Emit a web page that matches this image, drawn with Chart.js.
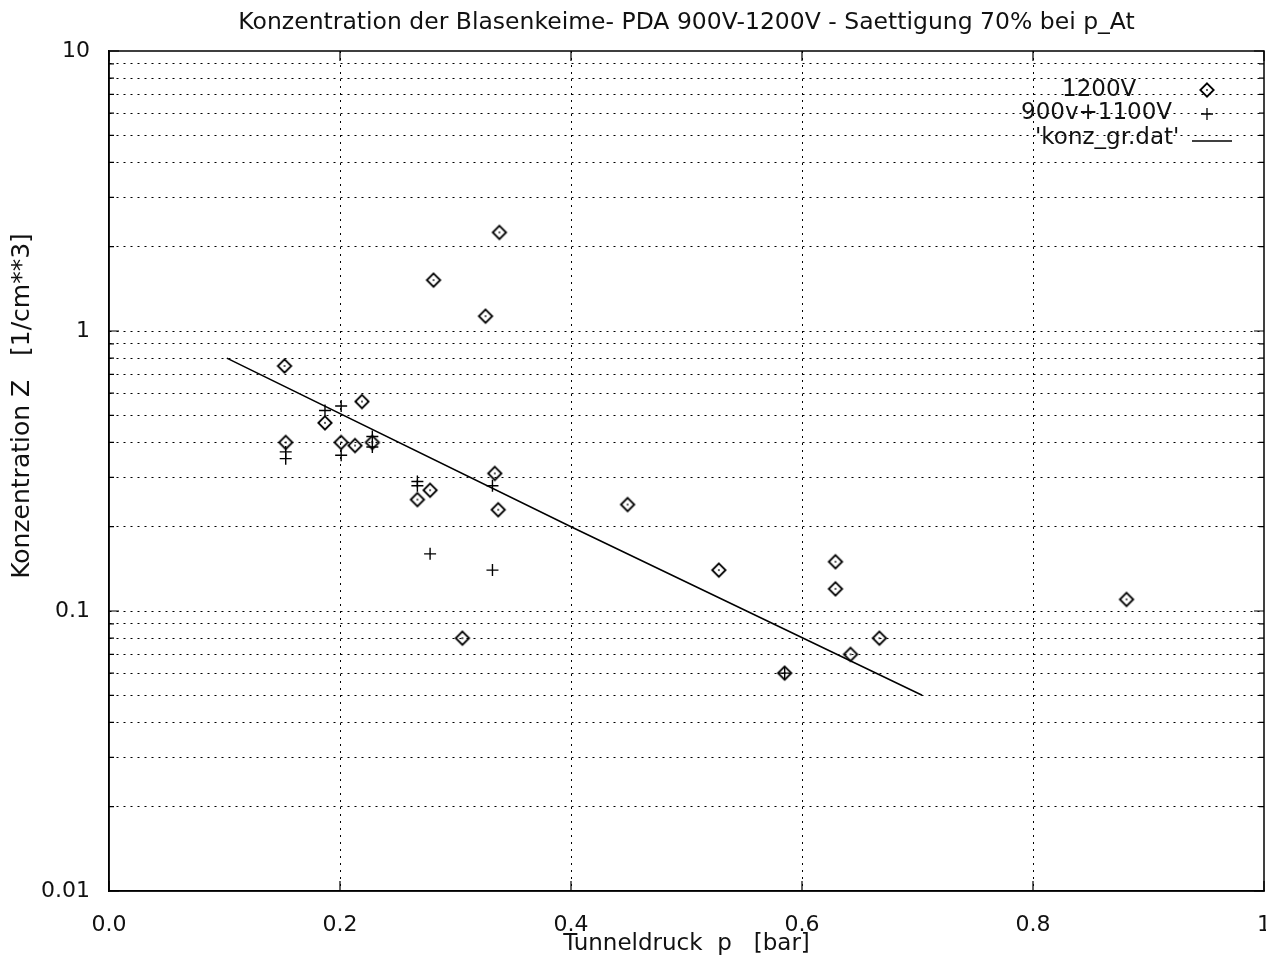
<!DOCTYPE html>
<html><head><meta charset="utf-8">
<script src="https://cdn.jsdelivr.net/npm/chart.js@4.4.1/dist/chart.umd.min.js"></script>
<style>html,body{margin:0;padding:0;background:#fff;overflow:hidden}#wrap{width:1266px;height:962px}</style>
</head><body><div id="wrap"><canvas id="c" width="1266" height="962"></canvas></div>
<script>
// ---- data ----
const titleText = 'Konzentration der Blasenkeime- PDA 900V-1200V - Saettigung 70% bei p_At';
const xAxisTitle = 'Tunneldruck  p   [bar]';
const yAxisTitle = 'Konzentration Z   [1/cm**3]';
const seriesNames = ['1200V', '900v+1100V', "'konz_gr.dat'"];

const p1200 = [0.152, 0.153, 0.187, 0.219, 0.201, 0.213, 0.228, 0.267, 0.278, 0.281, 0.326, 0.338, 0.334, 0.337, 0.306, 0.449, 0.528, 0.585, 0.629, 0.629, 0.642, 0.667, 0.881];
const z1200 = [0.75, 0.40, 0.47, 0.56, 0.40, 0.39, 0.40, 0.25, 0.27, 1.52, 1.13, 2.25, 0.31, 0.23, 0.08, 0.24, 0.14, 0.06, 0.15, 0.12, 0.07, 0.08, 0.11];

const p900 = [0.153, 0.153, 0.187, 0.201, 0.201, 0.228, 0.228, 0.267, 0.267, 0.278, 0.332, 0.332, 0.585];
const z900 = [0.37, 0.35, 0.52, 0.54, 0.36, 0.42, 0.385, 0.29, 0.28, 0.16, 0.28, 0.14, 0.06];

const pFit = [0.102, 0.4, 0.704];
const zFit = [0.8, 0.2, 0.05];

const xTicks = [0, 0.2, 0.4, 0.6, 0.8, 1];
const xTickLabels = ['0.0', '0.2', '0.4', '0.6', '0.8', '1'];
const yTicks = [0.01,0.02,0.03,0.04,0.05,0.06,0.07,0.08,0.09,0.1,0.2,0.3,0.4,0.5,0.6,0.7,0.8,0.9,1,2,3,4,5,6,7,8,9,10];
const yMajorTicks = [0.01, 0.1, 1, 10];
const yTickLabels = ['0.01', '0.1', '1', '10'];

// ---- styles ----
const FONT = '"DejaVu Sans", Verdana, sans-serif';
const INK = '#111';
const TICK_FONT = 22;

function makeDiamond() {
  const c = document.createElement('canvas');
  c.width = 18; c.height = 18;
  const g = c.getContext('2d');
  g.strokeStyle = '#000'; g.lineWidth = 1.8;
  g.beginPath();
  g.moveTo(9, 2.3); g.lineTo(15.7, 9); g.lineTo(9, 15.7); g.lineTo(2.3, 9); g.closePath();
  g.stroke();
  g.fillStyle = '#000';
  g.fillRect(8.2, 8.2, 1.6, 1.6);
  return c;
}
const diamondImg = makeDiamond();

const toPts = (xs, ys) => xs.map((x, i) => ({x: x, y: ys[i]}));
const isMajor = v => yMajorTicks.some(m => Math.abs(m - v) < 1e-9);

const framePlugin = {
  id: 'frame',
  afterDraw(chart) {
    const {ctx, chartArea: a} = chart;
    const xs = chart.scales.x, ys = chart.scales.y;
    ctx.save();
    ctx.strokeStyle = '#000';
    ctx.lineWidth = 1.5;
    ctx.strokeRect(a.left, a.top, a.right - a.left, a.bottom - a.top);
    // inward tick marks
    ctx.lineWidth = 1.2;
    ctx.beginPath();
    yTicks.forEach(v => {
      const y = ys.getPixelForValue(v);
      const len = isMajor(v) ? 10 : 5;
      ctx.moveTo(a.left, y); ctx.lineTo(a.left + len, y);
      ctx.moveTo(a.right, y); ctx.lineTo(a.right - len, y);
    });
    xTicks.forEach(v => {
      const x = xs.getPixelForValue(v);
      ctx.moveTo(x, a.bottom); ctx.lineTo(x, a.bottom - 10);
      ctx.moveTo(x, a.top); ctx.lineTo(x, a.top + 10);
    });
    ctx.stroke();
    // title
    ctx.fillStyle = INK;
    ctx.font = '23.5px ' + FONT;
    ctx.textAlign = 'center';
    ctx.textBaseline = 'middle';
    ctx.fillText(titleText, (a.left + a.right) / 2, 23);
    // y axis title
    ctx.save();
    ctx.font = '25px ' + FONT;
    ctx.translate(22, 406);
    ctx.rotate(-Math.PI / 2);
    ctx.fillText(yAxisTitle, 0, 0);
    ctx.restore();
    // legend
    ctx.font = '23px ' + FONT;
    ctx.textAlign = 'left';
    const L = [
      {text: seriesNames[0], x: a.right - 202, y: 90},
      {text: seriesNames[1], x: a.right - 243, y: 113},
      {text: seriesNames[2], x: a.right - 229, y: 138}
    ];
    L.forEach(o => ctx.fillText(o.text, o.x, o.y));
    const sx = a.right - 57;
    ctx.drawImage(diamondImg, sx - 9, 90 - 9);
    ctx.strokeStyle = '#000';
    ctx.lineWidth = 1.3;
    ctx.beginPath();
    ctx.moveTo(sx - 6, 114); ctx.lineTo(sx + 6, 114);
    ctx.moveTo(sx, 108); ctx.lineTo(sx, 120);
    ctx.stroke();
    ctx.lineWidth = 1.5;
    ctx.beginPath();
    ctx.moveTo(a.right - 72, 141); ctx.lineTo(a.right - 32, 141);
    ctx.stroke();
    ctx.restore();
  }
};

new Chart(document.getElementById('c'), {
  type: 'scatter',
  data: {
    datasets: [
      {
        label: seriesNames[0],
        data: toPts(p1200, z1200),
        pointStyle: diamondImg,
        pointRadius: 7,
        borderColor: '#000',
        backgroundColor: '#000'
      },
      {
        label: seriesNames[1],
        data: toPts(p900, z900),
        pointStyle: 'cross',
        pointRadius: 6,
        borderWidth: 1.4,
        borderColor: '#000',
        backgroundColor: '#000'
      },
      {
        label: seriesNames[2],
        type: 'line',
        data: toPts(pFit, zFit),
        showLine: true,
        pointRadius: 0,
        borderColor: '#000',
        borderWidth: 1.5,
        fill: false,
        tension: 0
      }
    ]
  },
  options: {
    responsive: false,
    animation: false,
    events: [],
    devicePixelRatio: 1,
    layout: {autoPadding: false, padding: {top: 51, right: 2, bottom: 0, left: 0}},
    plugins: {legend: {display: false}, tooltip: {enabled: false}, title: {display: false}},
    scales: {
      x: {
        type: 'linear', min: 0, max: 1,
        afterBuildTicks: s => { s.ticks = xTicks.map(v => ({value: v})); },
        afterFit: s => { s.height = 71; s.paddingLeft = 0; s.paddingRight = 0; },
        ticks: {
          padding: 21, color: INK, maxRotation: 0, autoSkip: false,
          font: {family: FONT, size: TICK_FONT},
          callback: v => { const k = xTicks.indexOf(v); return k >= 0 ? xTickLabels[k] : ''; }
        },
        grid: {
          drawTicks: false, lineWidth: 1,
          color: c => (c.tick && (c.tick.value === 0 || c.tick.value === 1)) ? 'rgba(0,0,0,0)' : '#000'
        },
        border: {display: true, color: '#000', width: 1.5, dash: [2, 5]},
        title: {display: true, text: xAxisTitle, color: INK, font: {family: FONT, size: 23}, padding: {top: 0, bottom: 4}}
      },
      y: {
        type: 'logarithmic', min: 0.01, max: 10,
        afterBuildTicks: s => { s.ticks = yTicks.map(v => ({value: v, major: isMajor(v)})); },
        afterFit: s => { s.width = 109; s.paddingTop = 0; s.paddingBottom = 0; },
        ticks: {
          padding: 19, color: INK, autoSkip: false,
          font: {family: FONT, size: TICK_FONT},
          callback: v => { const k = yMajorTicks.findIndex(m => Math.abs(m - v) < 1e-9); return k >= 0 ? yTickLabels[k] : ''; }
        },
        grid: {
          drawTicks: false, lineWidth: 1,
          color: c => (c.tick && (Math.abs(c.tick.value - 0.01) < 1e-9 || Math.abs(c.tick.value - 10) < 1e-9)) ? 'rgba(0,0,0,0)' : '#000'
        },
        border: {display: true, color: '#000', width: 1.5, dash: [2, 5]},
        title: {display: false, text: yAxisTitle}
      }
    }
  },
  plugins: [framePlugin]
});
</script>
</body></html>
